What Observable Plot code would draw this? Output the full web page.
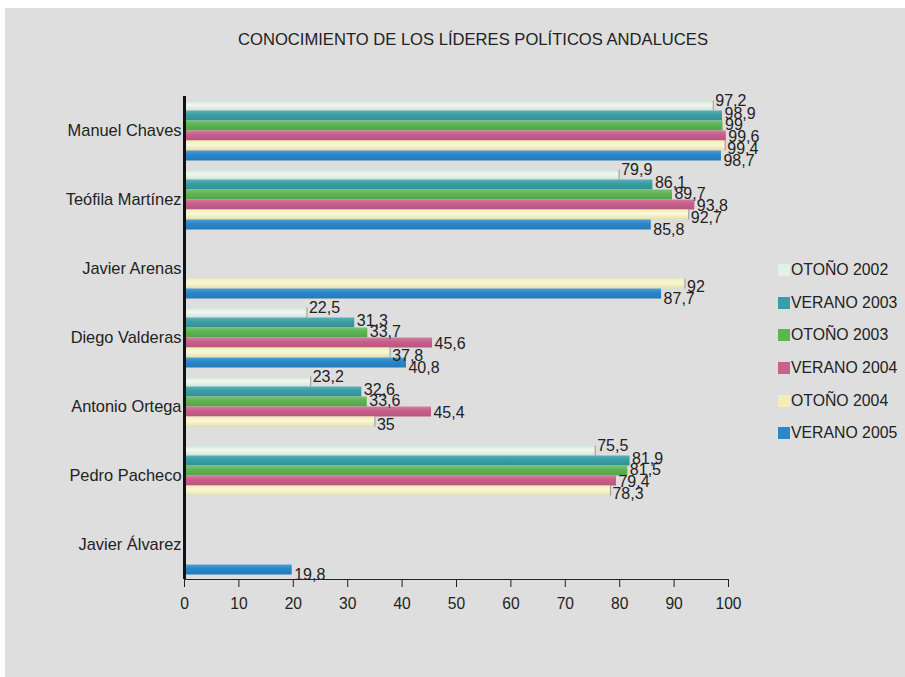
<!DOCTYPE html>
<html><head><meta charset="utf-8">
<script src="https://cdn.jsdelivr.net/npm/d3@7"></script>
<script src="https://cdn.jsdelivr.net/npm/@observablehq/plot@0.6"></script>
<style>
body{margin:0;background:#fff;font-family:"Liberation Sans",Arial,sans-serif;}
#panel{position:absolute;left:5px;top:8px;width:900px;height:669px;background:#dedede;overflow:hidden;}
#title{position:absolute;left:468px;top:22px;transform:translateX(-50%);white-space:nowrap;font-size:16.6px;color:#222;}
#chart{position:absolute;left:0;top:0;}
#legend{position:absolute;left:773px;top:246px;}
.li{height:32.6px;display:flex;align-items:center;font-size:15.8px;color:#222;}
.sw{width:12px;height:12px;margin-right:1px;}
</style></head>
<body>
<div id="panel">
  <div id="title">CONOCIMIENTO DE LOS LÍDERES POLÍTICOS ANDALUCES</div>
  <div id="chart"></div>
  <div id="legend"></div>
</div>
<script>
const leaders = ["Manuel Chaves","Teófila Martínez","Javier Arenas","Diego Valderas","Antonio Ortega","Pedro Pacheco","Javier Álvarez"];
const series = ["OTOÑO 2002","VERANO 2003","OTOÑO 2003","VERANO 2004","OTOÑO 2004","VERANO 2005"];
const colors = ["#e2f1e5","#3a9ea6","#5cb552","#c95f8b","#f3eeb2","#2a87c9"];
const otono2002  = [97.2, 79.9, null, 22.5, 23.2, 75.5, null];
const verano2003 = [98.9, 86.1, null, 31.3, 32.6, 81.9, null];
const otono2003  = [99,   89.7, null, 33.7, 33.6, 81.5, null];
const verano2004 = [99.6, 93.8, null, 45.6, 45.4, 79.4, null];
const otono2004  = [99.4, 92.7, 92,   37.8, 35,   78.3, null];
const verano2005 = [98.7, 85.8, 87.7, 40.8, null, null, 19.8];
const xTicks = [0,10,20,30,40,50,60,70,80,90,100];

const seriesValues = [otono2002, verano2003, otono2003, verano2004, otono2004, verano2005];
const rows = [];
leaders.forEach((l, i) => seriesValues.forEach((arr, j) => {
  if (arr[i] != null) rows.push({leader: l, series: series[j], value: arr[i]});
}));
const fmt = v => String(v).replace(".", ",");
const labelDy = [-5, -2, -1, 1, 3, 5];
const lightSeries = new Set(["OTOÑO 2002", "OTOÑO 2004"]);

const plot = Plot.plot({
  width: 900, height: 669,
  marginLeft: 179, marginRight: 177, marginTop: 87.5, marginBottom: 98.5,
  style: {background: "transparent", fontFamily: "'Liberation Sans', Arial, sans-serif", fontSize: "16.4px", color: "#222"},
  x: {domain: [0, 100], ticks: xTicks, tickSize: 8, tickPadding: 10, line: true, label: null},
  y: {domain: series, axis: null, paddingInner: 0, paddingOuter: 0.3},
  fy: {domain: leaders, padding: 0, label: null, tickSize: 0, tickPadding: 3, axis: "left"},
  color: {domain: series, range: colors},
  marks: [
    ...series.map((s, j) => Plot.barX(rows.filter(r => r.series === s), {
      fy: "leader", y: "series", x: "value", fill: `url(#grad${j})`
    })),
    Plot.tickX(rows.filter(r => lightSeries.has(r.series)), {fy: "leader", y: "series", x: "value", stroke: "#9a9a9a", strokeWidth: 1}),
    ...series.map((s, j) => Plot.text(rows.filter(r => r.series === s), {
      fy: "leader", y: "series", x: "value", text: d => fmt(d.value),
      textAnchor: "start", dx: 2, dy: labelDy[j], fill: "#222", fontSize: 16
    })),
    Plot.ruleX([0], {stroke: "#111", strokeWidth: 3})
  ]
});

// gradient defs for the 3D-ish bar shading
const svgNS = "http://www.w3.org/2000/svg";
const defs = document.createElementNS(svgNS, "defs");
colors.forEach((c, j) => {
  const g = document.createElementNS(svgNS, "linearGradient");
  g.setAttribute("id", `grad${j}`);
  g.setAttribute("x1", "0"); g.setAttribute("y1", "0"); g.setAttribute("x2", "0"); g.setAttribute("y2", "1");
  const light = j === 0 || j === 4;
  const stops = light
    ? [[0, d3.interpolateRgb(c, "#b8d8bf")(j === 0 ? 0.5 : 0)], [0.45, d3.interpolateRgb(c, "#ffffff")(0.5)], [1, d3.interpolateRgb(c, "#000")(0.06)]]
    : [[0, d3.interpolateRgb(c, "#ffffff")(0.18)], [0.4, c], [1, d3.interpolateRgb(c, "#000")(0.1)]];
  stops.forEach(([o, col]) => {
    const st = document.createElementNS(svgNS, "stop");
    st.setAttribute("offset", o);
    st.setAttribute("stop-color", col);
    g.appendChild(st);
  });
  defs.appendChild(g);
});
const svgEl = plot.tagName.toLowerCase() === "svg" ? plot : plot.querySelector("svg");
svgEl.insertBefore(defs, svgEl.firstChild);
svgEl.querySelectorAll('[aria-label="x-axis tick label"]').forEach(e => e.setAttribute("font-size", "15.6"));
document.getElementById("chart").appendChild(plot);

const lg = document.getElementById("legend");
series.forEach((s, j) => {
  const d = document.createElement("div");
  d.className = "li";
  d.innerHTML = `<span class="sw" style="background:${colors[j]}"></span>${s}`;
  lg.appendChild(d);
});
</script>
</body></html>
